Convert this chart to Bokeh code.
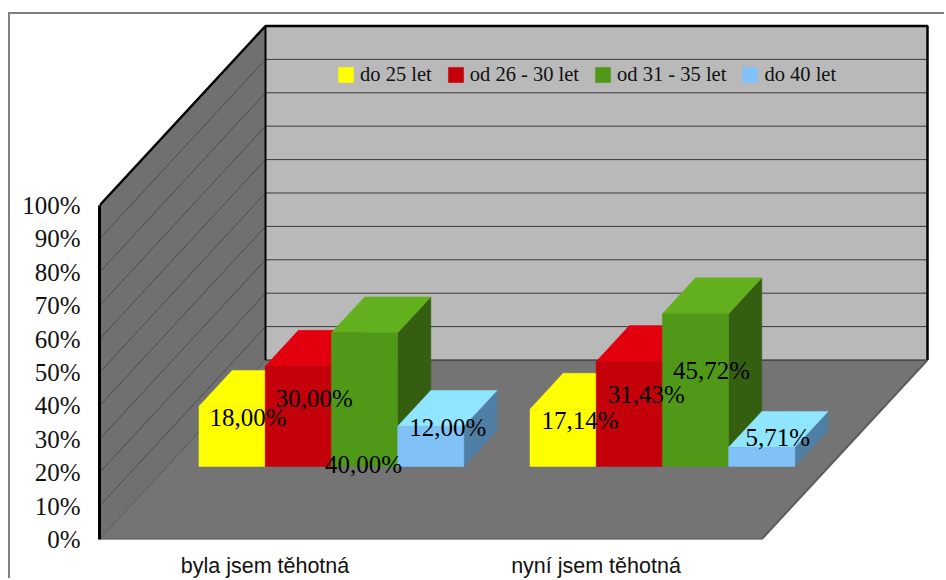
from bokeh.embed import file_html
from bokeh.models import FixedTicker, Legend, LegendItem, PrintfTickFormatter, Range1d
from bokeh.plotting import figure
from bokeh.resources import INLINE

# Percentage shares per age band, one list per group
groups = ["byla jsem těhotná", "nyní jsem těhotná"]
series_names = ["do 25 let", "od 26 - 30 let", "od 31 - 35 let", "do 40 let"]
do_25 = [18.00, 17.14]
od_26_30 = [30.00, 31.43]
od_31_35 = [40.00, 45.72]
do_40 = [12.00, 5.71]
percent_ticks = [0, 10, 20, 30, 40, 50, 60, 70, 80, 90, 100]

series_values = [do_25, od_26_30, od_31_35, do_40]

# Face colours of each series: front, top, side
FACES = [
    ("#ffff00", "#ffff00", "#9a9a00"),
    ("#c4000a", "#e2000f", "#7a0006"),
    ("#509918", "#62b01e", "#355f10"),
    ("#80c2f8", "#90e6ff", "#4f7fa4"),
]

# Page placement of the figure inside its grey corner border
MARGIN_TOP, MARGIN_LEFT = 14, 10
FIG_W, FIG_H = 946 - MARGIN_LEFT, 580 - MARGIN_TOP

# Oblique projection: a full depth step moves this far in category and percent units
PX_X, PX_Y = 331.0, 3.34
FRAME_L, FRAME_B = 99 - MARGIN_LEFT, 539 - MARGIN_TOP
DEPTH_X = 166.0 / PX_X
DEPTH_Y = 179.5 / PX_Y
BAR_W = 0.2
GROUP_PAD = 0.1
FRONT_DX = 0.4 * DEPTH_X
FRONT_DY = 0.407 * DEPTH_Y
BAR_DX = 0.2 * DEPTH_X
BAR_DY = 0.2 * DEPTH_Y
N_GROUPS = len(groups)

# Pixel nudges of the value labels relative to the middle of each bar's top
LABEL_NUDGE = [
    [(16, 11), (17, 11)],
    [(16, 32), (17, 33)],
    [(-1, 132), (16, 57)],
    [(17, 1), (16, -10)],
]

p = figure(width=FIG_W, height=FIG_H, output_backend="svg", toolbar_location=None,
           x_range=Range1d(0, (FIG_W - FRAME_L) / PX_X),
           y_range=Range1d(0, FRAME_B / PX_Y),
           min_border_left=FRAME_L, min_border_right=0, min_border_top=0,
           min_border_bottom=FIG_H - FRAME_B, outline_line_color=None,
           background_fill_color="white", border_fill_color="white",
           margin=(MARGIN_TOP, 0, 0, MARGIN_LEFT),
           styles={"box-shadow": "-2px -2px 0 #808080"})
p.grid.visible = False

# Axes
ya = p.yaxis[0]
ya.ticker = FixedTicker(ticks=percent_ticks)
ya.formatter = PrintfTickFormatter(format="%d%%")
ya.bounds = (0, 100)
ya.axis_line_color = "black"
ya.axis_line_width = 3
ya.major_tick_line_color = None
ya.minor_tick_line_color = None
ya.major_tick_out = 0
ya.major_tick_in = 0
ya.major_label_standoff = 19
ya.major_label_text_font = "Liberation Serif"
ya.major_label_text_font_size = "25px"
ya.major_label_text_color = "#111111"

xa = p.xaxis[0]
xa.ticker = FixedTicker(ticks=[i + 0.5 for i in range(N_GROUPS)])
xa.major_label_overrides = {i + 0.5: g for i, g in enumerate(groups)}
xa.axis_line_color = None
xa.major_tick_line_color = None
xa.minor_tick_line_color = None
xa.major_tick_out = 0
xa.major_tick_in = 0
xa.major_label_standoff = 14
xa.major_label_text_font = "Liberation Sans"
xa.major_label_text_font_size = "21.5px"
xa.major_label_text_color = "#111111"

top_v = percent_ticks[-1]

# Side wall, floor and back wall
p.patch([0, DEPTH_X, DEPTH_X, 0], [0, DEPTH_Y, top_v + DEPTH_Y, top_v],
        fill_color="#707070", line_color=None)
p.patch([DEPTH_X, N_GROUPS + DEPTH_X, N_GROUPS + DEPTH_X, DEPTH_X],
        [DEPTH_Y, DEPTH_Y, top_v + DEPTH_Y, top_v + DEPTH_Y],
        fill_color="#b9b9b9", line_color=None)
p.patch([0, N_GROUPS, N_GROUPS + DEPTH_X, DEPTH_X], [0, 0, DEPTH_Y, DEPTH_Y],
        fill_color="#747474", line_color=None)

# Gridlines running along both walls
for v in percent_ticks[:-1]:
    p.line([0, DEPTH_X], [v, v + DEPTH_Y], line_color="#3c3c3c", line_width=0.7)
for v in percent_ticks[1:-1]:
    p.line([DEPTH_X, N_GROUPS + DEPTH_X], [v + DEPTH_Y, v + DEPTH_Y],
           line_color="#3a3a3a", line_width=1)
p.line([DEPTH_X, N_GROUPS + DEPTH_X], [DEPTH_Y, DEPTH_Y], line_color="#222222", line_width=1)

# Wall outlines and floor edges
p.line([0, DEPTH_X, N_GROUPS + DEPTH_X, N_GROUPS + DEPTH_X],
       [top_v, top_v + DEPTH_Y, top_v + DEPTH_Y, DEPTH_Y],
       line_color="black", line_width=2.5)
p.line([DEPTH_X, DEPTH_X], [DEPTH_Y, top_v + DEPTH_Y], line_color="black", line_width=2)
p.line([0, N_GROUPS, N_GROUPS + DEPTH_X], [0, 0, DEPTH_Y],
       line_color="#5c5c5c", line_width=2)

# Bars, each drawn side, top and front so nearer faces overlap correctly
legend_items = []
for s, (name, values) in enumerate(zip(series_names, series_values)):
    front_c, top_c, side_c = FACES[s]
    fx, fy, tx, ty, sx, sy = [], [], [], [], [], []
    for g, v in enumerate(values):
        x0 = g + GROUP_PAD + s * BAR_W + FRONT_DX
        x1 = x0 + BAR_W
        y0 = FRONT_DY
        y1 = y0 + v
        fx.append([x0, x1, x1, x0])
        fy.append([y0, y0, y1, y1])
        tx.append([x0, x1, x1 + BAR_DX, x0 + BAR_DX])
        ty.append([y1, y1, y1 + BAR_DY, y1 + BAR_DY])
        sx.append([x1, x1 + BAR_DX, x1 + BAR_DX, x1])
        sy.append([y0, y0 + BAR_DY, y1 + BAR_DY, y1])
    p.patches(sx, sy, fill_color=side_c, line_color=side_c, line_width=0.5)
    p.patches(tx, ty, fill_color=top_c, line_color=top_c, line_width=0.5)
    r = p.patches(fx, fy, fill_color=front_c, line_color=front_c, line_width=0.5)
    legend_items.append(LegendItem(label=name, renderers=[r]))

# Value labels, decimal comma as printed in the survey report
for s, values in enumerate(series_values):
    for g, v in enumerate(values):
        cx = g + GROUP_PAD + (s + 0.5) * BAR_W + FRONT_DX
        p.text([cx], [FRONT_DY + v], text=[f"{v:.2f}%".replace(".", ",")],
               x_offset=LABEL_NUDGE[s][g][0], y_offset=LABEL_NUDGE[s][g][1],
               text_align="center", text_baseline="middle",
               text_font={"value": "Liberation Serif"}, text_font_size="25px",
               text_color="black")

legend = Legend(items=legend_items, orientation="horizontal", location=(237, 453),
                background_fill_alpha=0, border_line_color=None, margin=0, padding=0,
                glyph_width=19, glyph_height=19, label_standoff=5, spacing=14,
                label_text_font="Liberation Serif", label_text_font_size="20.5px",
                label_text_color="#111111", label_height=19)
p.add_layout(legend, "center")

open("out.html", "w").write(file_html(p, INLINE))
